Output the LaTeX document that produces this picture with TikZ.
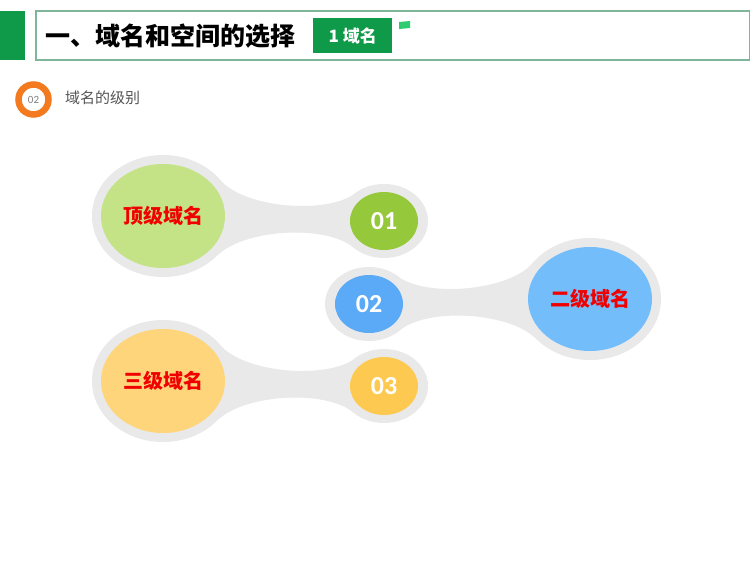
\documentclass[tikz,border=0pt]{standalone}
\usepackage{fontspec}
\newfontfamily\cjk{Noto Sans CJK SC}
\newfontfamily\numfont{Carlito}
\usetikzlibrary{shapes.geometric}
\definecolor{halo}{HTML}{E9E9E9}
\definecolor{gbig}{HTML}{C3E386}
\definecolor{gsmall}{HTML}{95C83A}
\definecolor{bbig}{HTML}{74BDFB}
\definecolor{bsmall}{HTML}{5AAAF7}
\definecolor{ybig}{HTML}{FED57A}
\definecolor{ysmall}{HTML}{FDC950}
\definecolor{redtxt}{HTML}{F00000}
\definecolor{titlegreen}{HTML}{0E9A48}
\definecolor{boxborder}{HTML}{7FB59A}
\definecolor{flaggreen}{HTML}{2ECC71}
\definecolor{ringorange}{HTML}{F47A1F}
\definecolor{subgray}{HTML}{555555}
\tikzset{
 halobig/.style={ellipse, fill=halo, minimum width=142pt, minimum height=122pt, inner sep=0pt},
 halosmall/.style={ellipse, fill=halo, minimum width=88pt, minimum height=74pt, inner sep=0pt},
 bigfill/.style={ellipse, minimum width=124pt, minimum height=104pt, inner sep=0pt,
   font=\cjk\bfseries\fontsize{20}{24}\selectfont, text=redtxt},
 smallfill/.style={ellipse, minimum width=68pt, minimum height=58pt, inner sep=0pt,
   font=\numfont\bfseries\fontsize{26}{30}\selectfont, text=white},
 neck/.style={fill=halo},
}
\newcommand{\neckpath}{(57,-36) .. controls (82,-8) and (160,-2) .. (190,-21) -- (190,31) .. controls (160,8) and (82,14) .. (56,38) -- cycle}
\begin{document}
\begin{tikzpicture}[x=1pt,y=-1pt]
\useasboundingbox (0,0) rectangle (750,562);
\fill[white] (0,0) rectangle (750,562);
% header
\fill[titlegreen] (0,11) rectangle (25,60);
\draw[boxborder, line width=1.2pt] (36,11) rectangle (749.4,60);
\node[anchor=west, inner sep=0pt, font=\cjk\bfseries\fontsize{25}{28}\selectfont] (title) at (45,36) {一、域名和空间的选择};
\node[fill=titlegreen, minimum width=79pt, minimum height=35pt, inner sep=0pt, anchor=north west,
  text=white, font=\cjk\bfseries\fontsize{17}{20}\selectfont] (tag) at (313,18) {1 域名};
\fill[flaggreen] (399,22) -- (410,21) -- (410,28) -- (399,29) -- cycle;
% subtitle
\node[circle, draw=ringorange, line width=6.5pt, fill=white, minimum size=30pt, inner sep=0pt,
  text=gray, font=\numfont\fontsize{11}{12}\selectfont] (ring) at (33.5,99.5) {02};
\node[anchor=west, inner sep=0pt, text=subgray, font=\cjk\fontsize{15}{18}\selectfont] (sub) at (65,98) {域名的级别};
% row 1
\begin{scope}[shift={(163,216)}]
 \fill[neck] \neckpath;
 \node[halobig] (h1) at (0,0) {};
 \node[halosmall] (hs1) at (221,5) {};
 \node[bigfill, fill=gbig] (top) at (0,0) {顶级域名};
 \node[smallfill, fill=gsmall] (n1) at (221,5) {01};
\end{scope}
% row 2
\begin{scope}[shift={(590,299)}, xscale=-1]
 \fill[neck] \neckpath;
 \node[halobig] (h2) at (0,0) {};
 \node[halosmall] (hs2) at (221,5) {};
 \node[bigfill, fill=bbig] (second) at (0,0) {二级域名};
 \node[smallfill, fill=bsmall] (n2) at (221,5) {02};
\end{scope}
% row 3
\begin{scope}[shift={(163,381)}]
 \fill[neck] \neckpath;
 \node[halobig] (h3) at (0,0) {};
 \node[halosmall] (hs3) at (221,5) {};
 \node[bigfill, fill=ybig] (third) at (0,0) {三级域名};
 \node[smallfill, fill=ysmall] (n3) at (221,5) {03};
\end{scope}
\end{tikzpicture}
\end{document}
